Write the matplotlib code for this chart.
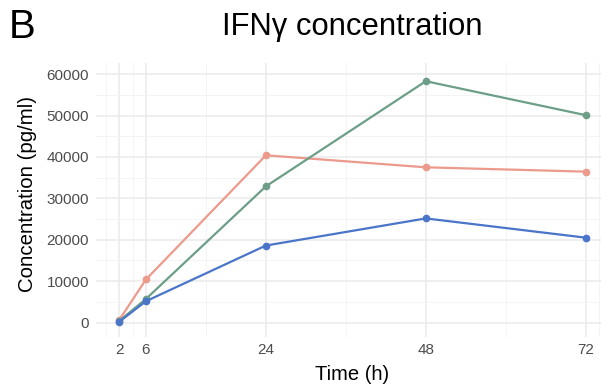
import matplotlib
matplotlib.use("Agg")
import matplotlib.pyplot as plt
from matplotlib.ticker import FixedLocator

# Data
time_h = [2, 6, 24, 48, 72]
series_red = [650, 10400, 40400, 37500, 36450]
series_green = [400, 5700, 32900, 58300, 50100]
series_blue = [200, 5150, 18600, 25150, 20500]
x_ticks = [2, 6, 24, 48, 72]
x_minor = [0, 4, 15, 36, 60, 74]
y_ticks = [0, 10000, 20000, 30000, 40000, 50000, 60000]
y_minor = [-5000, 5000, 15000, 25000, 35000, 45000, 55000]

plt.rcParams['font.family'] = ['Liberation Sans', 'DejaVu Sans']

W, H = 601, 389
fig = plt.figure(figsize=(W / 100, H / 100), dpi=100)
left, right, top, bottom = 96, 609, 63, 337
ax = fig.add_axes([left / W, 1 - bottom / H, (right - left) / W, (bottom - top) / H])

c_red = "#EC9A8C"
c_green = "#6C9E88"
c_blue = "#4A75C9"

for ys, c in [(series_red, c_red), (series_green, c_green), (series_blue, c_blue)]:
    ax.plot(time_h, ys, color=c, lw=1.6, marker='o', markersize=4.5, zorder=3,
            solid_capstyle='round')

ax.set_xlim(-1.5, 75.5)
ax.set_ylim(-3500, 62700)
ax.xaxis.set_major_locator(FixedLocator(x_ticks))
ax.xaxis.set_minor_locator(FixedLocator(x_minor))
ax.yaxis.set_major_locator(FixedLocator(y_ticks))
ax.yaxis.set_minor_locator(FixedLocator(y_minor))
ax.set_xticklabels([str(v) for v in x_ticks])
ax.set_yticklabels([str(v) for v in y_ticks])

ax.grid(which='major', color='#EBEBEB', lw=1.1)
ax.grid(which='minor', color='#F3F3F3', lw=0.6)
ax.set_axisbelow(True)
for s in ax.spines.values():
    s.set_visible(False)
ax.tick_params(which='both', length=0)
ax.tick_params(axis='x', labelsize=11, colors='#4D4D4D', pad=4)
ax.tick_params(axis='y', labelsize=11, colors='#4D4D4D', pad=5)

fig.text(28 / W, 1 - 194 / H, "Concentration (pg/ml)", rotation=90,
         ha='center', va='center', fontsize=14.7, color='black')
fig.text(352 / W, 1 - 380 / H, "Time (h)", ha='center', va='baseline',
         fontsize=14.5, color='black')
fig.text(352 / W, 1 - 34.5 / H, "IFNγ concentration", ha='center', va='baseline',
         fontsize=22.3, color='black')
fig.text(9 / W, 1 - 37.7 / H, "B", ha='left', va='baseline', fontsize=29, color='black')

fig.savefig("out.png", dpi=100)
